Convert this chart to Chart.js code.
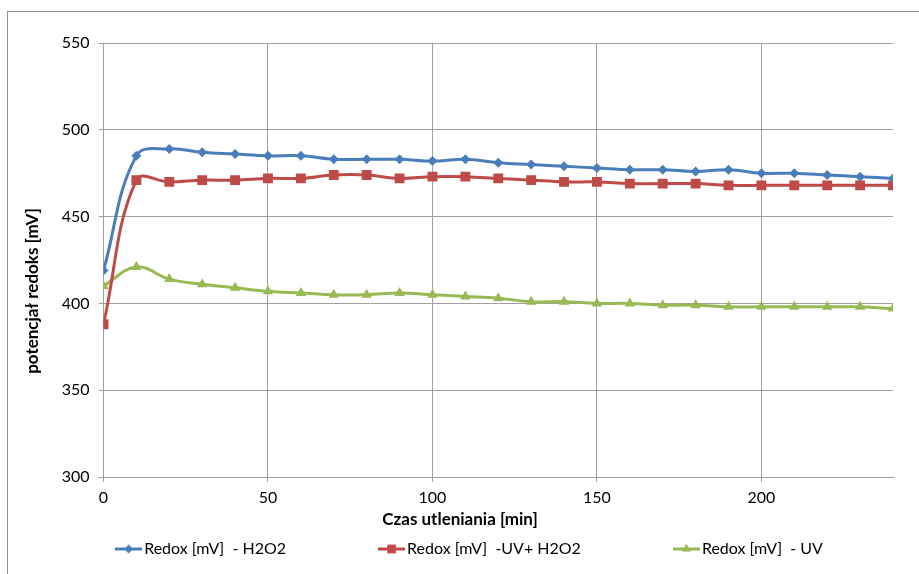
<!DOCTYPE html>
<html>
<head>
<meta charset="utf-8">
<script src="https://cdn.jsdelivr.net/npm/chart.js@4"></script>
<style>
    html, body { margin: 0; padding: 0; background: #fff; }
    #wrap { width: 919px; height: 574px; }
</style>
</head>
<body>
<div id="wrap"><canvas id="redox-chart" width="919" height="574"></canvas></div>
<script>
// Chart data
const times = [0, 10, 20, 30, 40, 50, 60, 70, 80, 90, 100, 110, 120, 130, 140, 150, 160, 170, 180, 190, 200, 210, 220, 230, 240];
const redoxH2O2 = [419, 485, 489, 487, 486, 485, 485, 483, 483, 483, 482, 483, 481, 480, 479, 478, 477, 477, 476, 477, 475, 475, 474, 473, 472];
const redoxUvH2O2 = [388, 471, 470, 471, 471, 472, 472, 474, 474, 472, 473, 473, 472, 471, 470, 470, 469, 469, 469, 468, 468, 468, 468, 468, 468];
const redoxUv = [410, 421, 414, 411, 409, 407, 406, 405, 405, 406, 405, 404, 403, 401, 401, 400, 400, 399, 399, 398, 398, 398, 398, 398, 397];
const seriesLabels = ["Redox [mV]  - H2O2", "Redox [mV]  -UV+ H2O2", "Redox [mV]  - UV"];
const xTitle = "Czas utleniania [min]";
const yTitle = "potencjał redoks [mV]";

const FONT = "Lato, 'Open Sans', sans-serif";
const colors = ["#4a7ebb", "#be4b48", "#98b954"];
const pointStyles = ["rectRot", "rect", "triangle"];
const pointRadii = [5, 7, 6];

function toPoints(values) {
    return values.map((v, i) => ({ x: times[i], y: v }));
}

function makeDataset(label, values, i) {
    return {
        label: label,
        data: toPoints(values),
        borderColor: colors[i],
        backgroundColor: colors[i],
        borderWidth: 3,
        pointStyle: pointStyles[i],
        pointRadius: pointRadii[i],
        pointHoverRadius: pointRadii[i],
        pointBorderWidth: 0,
        tension: 0.4,
    };
}

// Small line + marker glyph for the legend
function legendGlyph(i) {
    const c = document.createElement("canvas");
    c.width = 27;
    c.height = 13;
    const g = c.getContext("2d");
    g.strokeStyle = colors[i];
    g.lineWidth = 3;
    g.beginPath();
    g.moveTo(0, 6.5);
    g.lineTo(27, 6.5);
    g.stroke();
    g.fillStyle = colors[i];
    Chart.helpers.drawPoint(g, { pointStyle: pointStyles[i], radius: pointRadii[i] * 0.85, borderWidth: 0 }, 13.5, 6.5);
    g.fill();
    return c;
}

// Frame, axis titles and legend drawn like the Excel original
const excelExtras = {
    id: "excelExtras",
    beforeDraw(chart) {
        const ctx = chart.ctx;
        ctx.save();
        ctx.strokeStyle = "#8e8e8e";
        ctx.lineWidth = 1;
        ctx.strokeRect(7.5, 11.5, 2000, 2000);
        ctx.restore();
    },
    afterDraw(chart) {
        const ctx = chart.ctx;
        ctx.save();
        ctx.fillStyle = "#000";
        ctx.font = "bold 17px " + FONT;
        ctx.textAlign = "center";
        ctx.textBaseline = "middle";
        ctx.fillText(xTitle, 460, 520);
        ctx.translate(33, 291);
        ctx.rotate(-Math.PI / 2);
        ctx.fillText(yTitle, 0, 0);
        ctx.restore();

        // legend
        ctx.save();
        ctx.font = "16px " + FONT;
        ctx.textBaseline = "middle";
        ctx.textAlign = "left";
        const gap = 92;
        const glyphW = 27;
        const widths = chart.data.datasets.map((ds) => glyphW + 2 + ctx.measureText(ds.label).width);
        const total = widths.reduce((a, b) => a + b, 0) + gap * (widths.length - 1);
        let x = 469 - total / 2;
        const y = 549;
        chart.data.datasets.forEach((ds, i) => {
            ctx.drawImage(legendGlyph(i), x, y - 6.5);
            ctx.fillStyle = "#000";
            ctx.fillText(ds.label, x + glyphW + 2, y);
            x += widths[i] + gap;
        });
        ctx.restore();
    },
};

const ctx = document.getElementById("redox-chart").getContext("2d");
const redoxChart = new Chart(ctx, {
    type: "line",
    data: {
        datasets: [
            makeDataset(seriesLabels[0], redoxH2O2, 0),
            makeDataset(seriesLabels[1], redoxUvH2O2, 1),
            makeDataset(seriesLabels[2], redoxUv, 2),
        ],
    },
    options: {
        responsive: false,
        animation: false,
        layout: { padding: { left: 0, top: 43, right: 26, bottom: 0 } },
        plugins: {
            legend: { display: false },
            tooltip: { enabled: false },
        },
        scales: {
            x: {
                type: "linear",
                min: 0,
                max: 240,
                afterBuildTicks: (scale) => {
                    scale.ticks = scale.ticks.filter((t) => t.value % 50 === 0);
                },
                afterFit: (scale) => {
                    scale.height = 97;
                },
                ticks: {
                    stepSize: 50,
                    color: "#000",
                    padding: 6,
                    font: { family: FONT, size: 16 },
                },
                grid: { color: "#a0a0a0", tickLength: 5, lineWidth: 1 },
                border: { color: "#a0a0a0" },
            },
            y: {
                min: 300,
                max: 550,
                afterFit: (scale) => {
                    scale.width = 103.5;
                },
                ticks: {
                    stepSize: 50,
                    color: "#000",
                    padding: 9,
                    font: { family: FONT, size: 16 },
                },
                grid: { color: "#a0a0a0", tickLength: 5, lineWidth: 1 },
                border: { color: "#a0a0a0" },
            },
        },
    },
    plugins: [excelExtras],
});
</script>
</body>
</html>
